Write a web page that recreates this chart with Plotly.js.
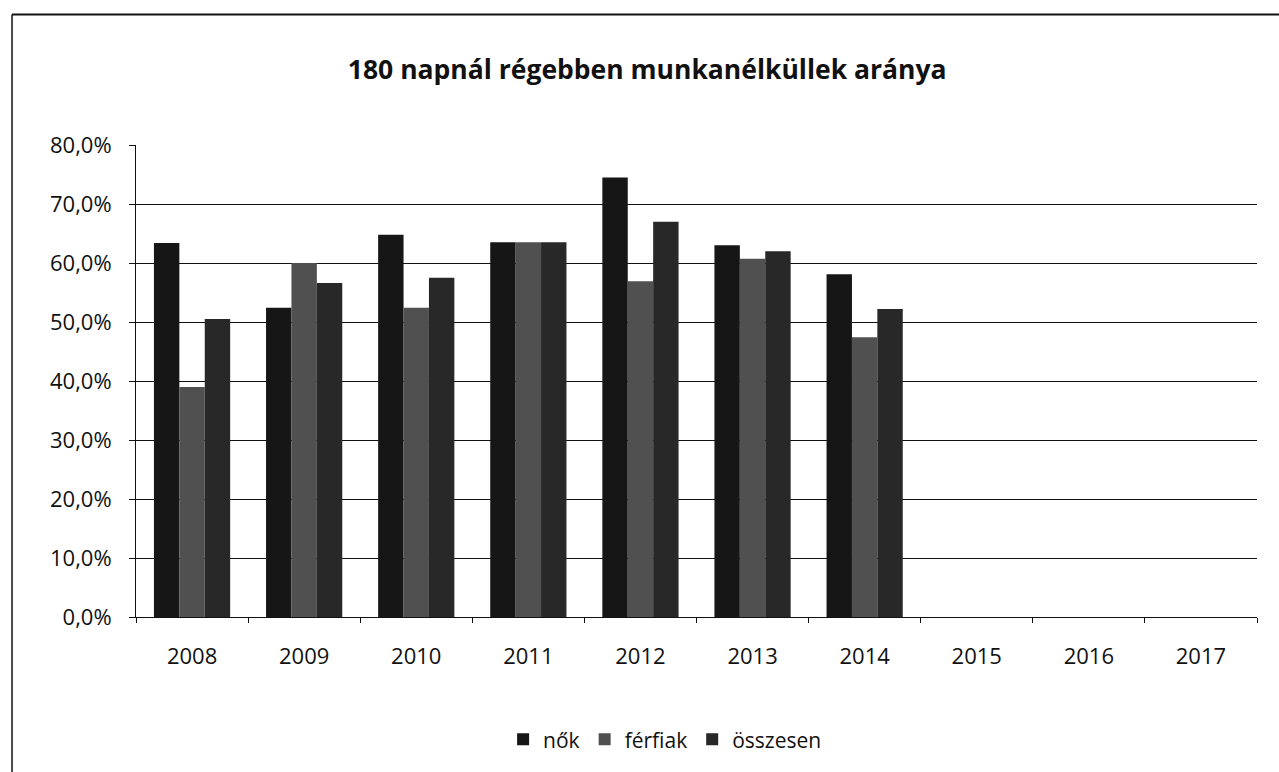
<!DOCTYPE html>
<html>
<head>
<meta charset="utf-8">
<script src="https://cdn.plot.ly/plotly-3.0.1.min.js"></script>
<style>
  html, body { margin: 0; padding: 0; background: #ffffff; }
  #chart { width: 1279px; height: 772px; }
</style>
</head>
<body>
<div id="chart"></div>
<script>
const years = ['2008', '2009', '2010', '2011', '2012', '2013', '2014', '2015', '2016', '2017'];
const nok = [63.4, 52.4, 64.8, 63.5, 74.5, 63.0, 58.1, null, null, null];
const ferfiak = [39.0, 60.0, 52.4, 63.5, 56.9, 60.7, 47.4, null, null, null];
const osszesen = [50.5, 56.6, 57.5, 63.5, 67.0, 62.0, 52.2, null, null, null];
const seriesNames = ['nők', 'férfiak', 'összesen'];
const yTicks = [0, 10, 20, 30, 40, 50, 60, 70, 80];
const yTickText = yTicks.map(v => v.toFixed(1).replace('.', ',') + '%');

const font = '"Open Sans", Lato, "DejaVu Sans", sans-serif';

const traces = [
  { type: 'bar', name: seriesNames[0], x: years, y: nok,
    marker: { color: '#161616', line: { width: 0 } } },
  { type: 'bar', name: seriesNames[1], x: years, y: ferfiak,
    marker: { color: '#505050', line: { width: 0 } } },
  { type: 'bar', name: seriesNames[2], x: years, y: osszesen,
    marker: { color: '#282828', line: { width: 0 } } }
];

const layout = {
  width: 1279, height: 772,
  paper_bgcolor: '#ffffff', plot_bgcolor: '#ffffff',
  margin: { l: 136, r: 22, t: 145, b: 153 },
  font: { family: font, color: '#111111', size: 22 },
  title: { text: '<b>180 napnál régebben munkanélküllek aránya</b>',
    font: { family: font, size: 26.5, color: '#111111' },
    x: 0.506, xanchor: 'center', y: 0.91, yanchor: 'middle' },
  barmode: 'group', bargap: 0.32, bargroupgap: 0,
  showlegend: true,
  legend: { orientation: 'h', x: 0.472, xanchor: 'center', y: -0.26, yanchor: 'middle',
    font: { family: font, size: 21 }, itemwidth: 30, traceorder: 'normal' },
  xaxis: {
    type: 'category', showgrid: false, zeroline: false,
    showline: true, linecolor: '#111111', linewidth: 1,
    ticks: 'outside', ticklen: 5, tickcolor: '#111111', tickson: 'boundaries',
    ticklabelstandoff: 20,
    tickfont: { family: font, size: 22, color: '#111111' },
    range: [-0.5, 9.5]
  },
  yaxis: {
    range: [0, 80], tickmode: 'array', tickvals: yTicks, ticktext: yTickText,
    showgrid: true, gridcolor: '#111111', gridwidth: 1,
    zeroline: false, showline: true, linecolor: '#111111', linewidth: 1,
    ticks: 'outside', ticklen: 6, tickcolor: '#111111',
    ticklabelstandoff: 13,
    tickfont: { family: font, size: 22, color: '#111111' }
  },
  shapes: [
    { type: 'line', xref: 'paper', yref: 'paper', x0: -0.1106, x1: 1.05, y0: 1.2764, y1: 1.2764,
      line: { color: '#111111', width: 2 } },
    { type: 'line', xref: 'paper', yref: 'paper', x0: -0.1106, x1: -0.1106, y0: 1.2764, y1: -0.36,
      line: { color: '#111111', width: 1.5 } }
  ]
};

Plotly.newPlot('chart', traces, layout, { displayModeBar: false, responsive: false });
</script>
</body>
</html>
